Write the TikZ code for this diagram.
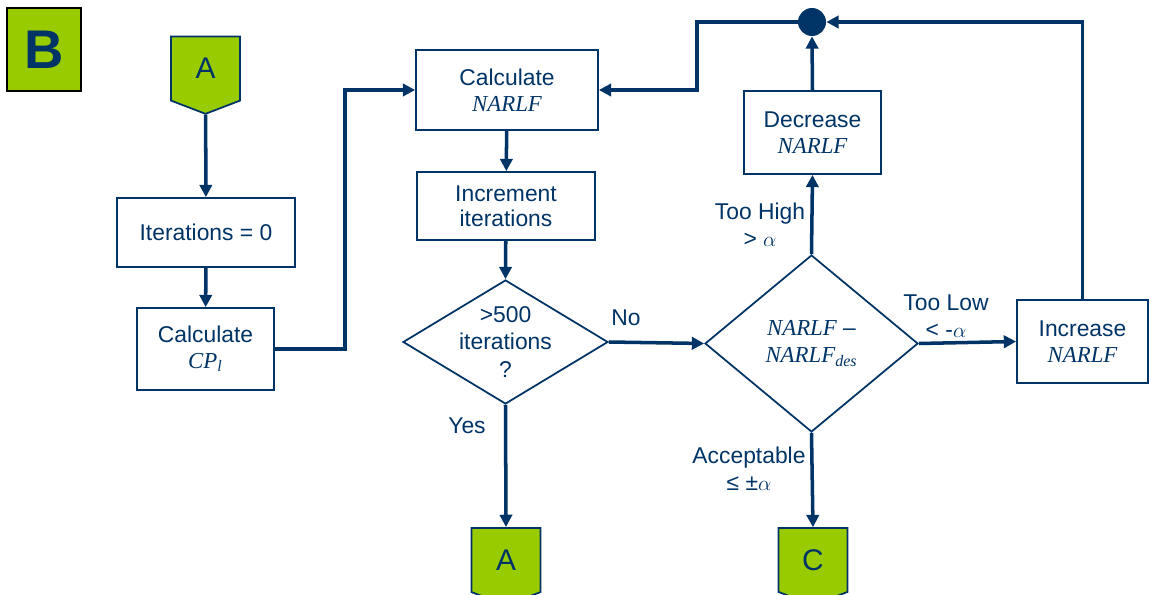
\documentclass[tikz,border=0pt]{standalone}
\usepackage{fontspec}
\setmainfont{Liberation Sans}
\newfontfamily\tms{Liberation Serif}
\usetikzlibrary{shapes.geometric, shapes.symbols, arrows.meta}
\definecolor{navy}{HTML}{003366}
\definecolor{lime}{HTML}{99CC00}
\tikzstyle{process} = [rectangle, draw=navy, line width=1pt, text=navy, align=center, font=\fontsize{13}{14.5}\selectfont]
\tikzstyle{decision} = [diamond, draw=navy, line width=1pt, inner sep=0pt]
\tikzstyle{offpage} = [signal, signal to=south, signal pointer angle=138, draw=navy, line width=1pt, fill=lime, text=navy, font=\fontsize{17}{20}\selectfont, minimum width=1.38cm, minimum height=1.36cm, inner sep=0pt]
\tikzstyle{arrow} = [navy, line width=2pt, -{Triangle[length=7pt, width=7pt]}]
\tikzstyle{lbl} = [text=navy, align=center, font=\fontsize{13}{15.5}\selectfont]
\newcommand{\nar}{{\tms\itshape NARLF}}

\begin{document}
\begin{tikzpicture}
\useasboundingbox (0,0) rectangle (23.02,11.88);
% section tag
\node[rectangle, draw=black, line width=.8pt, fill=lime, text=navy, minimum width=1.48cm, minimum height=1.66cm, font=\fontsize{31}{31}\selectfont\bfseries] (tag) at (0.88,10.89) {B};

% left column
\node[offpage] (ain) at (4.11,10.51) {A};
\node[process, minimum width=3.56cm, minimum height=1.38cm] (iter) at (4.12,7.23) {Iterations = 0};
\node[process, minimum width=2.74cm, minimum height=1.64cm] (cp) at (4.11,4.90) {Calculate\\{\tms\itshape CP\textsubscript{l}}};

% middle column
\node[process, minimum width=3.64cm, minimum height=1.6cm] (calc) at (10.14,10.08) {Calculate\\\nar};
\node[process, minimum width=3.56cm, minimum height=1.36cm] (incr) at (10.12,7.76) {Increment\\iterations};
\node[decision, minimum width=4.1cm, minimum height=2.48cm, label={[lbl]center:{>500\\iterations\\?}}] (limit) at (10.11,5.04) {};
\node[offpage] (aout) at (10.12,0.68) {A};

% right part
\node[decision, minimum width=4.26cm, minimum height=3.54cm, label={[lbl]center:{\nar\ --\\{\tms\itshape NARLF\textsubscript{des}}}}] (check) at (16.23,5.01) {};
\node[process, minimum width=2.74cm, minimum height=1.66cm] (decr) at (16.25,9.23) {Decrease\\\nar};
\node[process, minimum width=2.62cm, minimum height=1.66cm] (raise) at (21.65,5.05) {Increase\\\nar};
\node[circle, fill=navy, minimum size=0.56cm, inner sep=0pt] (join) at (16.24,11.44) {};
\node[offpage] (cout) at (16.26,0.68) {C};

% bends
\coordinate (bendl) at (6.9,10.08);
\coordinate (bendr) at (13.94,10.08);

% arrows
\draw[arrow] (ain) -- (iter);
\draw[arrow] (iter) -- (cp);
\draw[arrow] (cp.east) -| (bendl) -- (calc.west);
\draw[arrow] (calc) -- (incr);
\draw[arrow] (incr) -- (limit.north);
\draw[arrow] (limit.east) -- (check.west);
\draw[arrow] (limit.south) -- (aout.north);
\draw[arrow] (check.north) -- (decr.south);
\draw[arrow] (decr.north) -- (join.south);
\draw[arrow] (join.west) -| (bendr) -- (calc.east);
\draw[arrow] (check.east) -- (raise.west);
\draw[arrow] (raise.north) |- (join.east);
\draw[arrow] (check.south) -- (cout.north);

% branch labels
\node[lbl] (no) at (12.52,5.52) {No};
\node[lbl] (yes) at (9.34,3.36) {Yes};
\node[lbl] (high) at (15.2,7.38) {Too High\\> $\alpha$};
\node[lbl] (low) at (18.92,5.56) {Too Low\\< -$\alpha$};
\node[lbl] (ok) at (14.98,2.51) {Acceptable\\≤ ±$\alpha$};
\end{tikzpicture}
\end{document}
